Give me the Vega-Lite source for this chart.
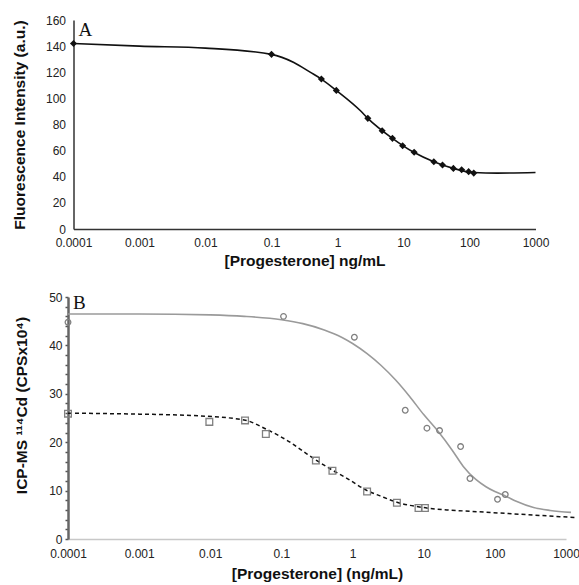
{
  "$schema": "https://vega.github.io/schema/vega-lite/v6.json",
  "background": "white",
  "padding": {"left": 12, "top": 14, "right": 0, "bottom": 0},
  "spacing": 22,
  "columns": 1,
  "align": "none",
  "config": {
    "view": {"stroke": null},
    "font": "Liberation Sans",
    "axis": {"grid": false, "labelFont": "Liberation Sans", "titleFont": "Liberation Sans", "labelColor": "#222", "titleColor": "#111", "labelFontSize": 12, "titleFontSize": 15.5, "titleFontWeight": "bold"}
  },
  "datasets": {
    "a_points": [
      {"conc": 0.0001, "signal": 142}, {"conc": 0.1, "signal": 133.7}, {"conc": 0.57, "signal": 114.8},
      {"conc": 0.96, "signal": 106.1}, {"conc": 2.88, "signal": 84.7}, {"conc": 4.75, "signal": 75.2},
      {"conc": 6.8, "signal": 69.4}, {"conc": 9.7, "signal": 63.7}, {"conc": 14.5, "signal": 58.7},
      {"conc": 28.8, "signal": 51.5}, {"conc": 39, "signal": 49}, {"conc": 57, "signal": 46.4},
      {"conc": 76, "signal": 45.4}, {"conc": 97, "signal": 43.9}, {"conc": 116, "signal": 42.8}
    ],
    "a_curve": [
      {"conc": 0.0001, "signal": 142}, {"conc": 0.001, "signal": 140}, {"conc": 0.01, "signal": 138.5},
      {"conc": 0.1, "signal": 133.7}, {"conc": 0.218, "signal": 127.5}, {"conc": 0.39, "signal": 119.9},
      {"conc": 0.57, "signal": 114.8}, {"conc": 0.96, "signal": 106.1}, {"conc": 2.23, "signal": 90.5},
      {"conc": 2.88, "signal": 84.7}, {"conc": 6.8, "signal": 69.4}, {"conc": 14.3, "signal": 58.7},
      {"conc": 28.8, "signal": 51.5}, {"conc": 57, "signal": 46.4}, {"conc": 116, "signal": 43.2},
      {"conc": 263, "signal": 42.8}, {"conc": 1000, "signal": 43.2}
    ],
    "b_points": [
      {"series": "circle", "conc": 0.0001, "cps": 44.8}, {"series": "circle", "conc": 0.107, "cps": 46.0},
      {"series": "circle", "conc": 1.06, "cps": 41.7}, {"series": "circle", "conc": 5.5, "cps": 26.6},
      {"series": "circle", "conc": 11.1, "cps": 22.9}, {"series": "circle", "conc": 16.7, "cps": 22.4},
      {"series": "circle", "conc": 33, "cps": 19.1}, {"series": "circle", "conc": 44.7, "cps": 12.5},
      {"series": "circle", "conc": 109, "cps": 8.2}, {"series": "circle", "conc": 140, "cps": 9.2},
      {"series": "square", "conc": 0.0001, "cps": 25.9}, {"series": "square", "conc": 0.0097, "cps": 24.2},
      {"series": "square", "conc": 0.0308, "cps": 24.5}, {"series": "square", "conc": 0.0604, "cps": 21.7},
      {"series": "square", "conc": 0.305, "cps": 16.2}, {"series": "square", "conc": 0.521, "cps": 14.1},
      {"series": "square", "conc": 1.6, "cps": 9.8}, {"series": "square", "conc": 4.2, "cps": 7.5},
      {"series": "square", "conc": 8.45, "cps": 6.4}, {"series": "square", "conc": 10.4, "cps": 6.4}
    ],
    "b_curves": [
      {"series": "solid", "conc": 0.0001, "cps": 46.5}, {"series": "solid", "conc": 0.001, "cps": 46.5},
      {"series": "solid", "conc": 0.01, "cps": 46.3}, {"series": "solid", "conc": 0.03, "cps": 46.0},
      {"series": "solid", "conc": 0.1, "cps": 45.3}, {"series": "solid", "conc": 0.2, "cps": 44.5},
      {"series": "solid", "conc": 0.4, "cps": 43.2}, {"series": "solid", "conc": 0.7, "cps": 41.7},
      {"series": "solid", "conc": 1.0, "cps": 40.4}, {"series": "solid", "conc": 1.6, "cps": 38.3},
      {"series": "solid", "conc": 2.5, "cps": 35.9}, {"series": "solid", "conc": 4.0, "cps": 32.9},
      {"series": "solid", "conc": 6.3, "cps": 29.5}, {"series": "solid", "conc": 10, "cps": 25.7},
      {"series": "solid", "conc": 16, "cps": 22.2}, {"series": "solid", "conc": 25, "cps": 18.4},
      {"series": "solid", "conc": 36, "cps": 15.0}, {"series": "solid", "conc": 54, "cps": 12.3},
      {"series": "solid", "conc": 75, "cps": 10.8}, {"series": "solid", "conc": 100, "cps": 9.8},
      {"series": "solid", "conc": 140, "cps": 8.9}, {"series": "solid", "conc": 200, "cps": 7.8},
      {"series": "solid", "conc": 350, "cps": 6.5}, {"series": "solid", "conc": 600, "cps": 5.9},
      {"series": "solid", "conc": 1175, "cps": 5.5},
      {"series": "dashed", "conc": 0.0001, "cps": 26.0}, {"series": "dashed", "conc": 0.001, "cps": 25.8},
      {"series": "dashed", "conc": 0.0058, "cps": 25.5}, {"series": "dashed", "conc": 0.0299, "cps": 24.6},
      {"series": "dashed", "conc": 0.061, "cps": 22.7}, {"series": "dashed", "conc": 0.132, "cps": 20.0},
      {"series": "dashed", "conc": 0.227, "cps": 17.6}, {"series": "dashed", "conc": 0.315, "cps": 16.2},
      {"series": "dashed", "conc": 0.51, "cps": 14.3}, {"series": "dashed", "conc": 0.8, "cps": 12.7},
      {"series": "dashed", "conc": 1.6, "cps": 10.0}, {"series": "dashed", "conc": 2.44, "cps": 8.9},
      {"series": "dashed", "conc": 4.2, "cps": 7.6}, {"series": "dashed", "conc": 9.9, "cps": 6.5},
      {"series": "dashed", "conc": 21.2, "cps": 6.0}, {"series": "dashed", "conc": 36.3, "cps": 5.8},
      {"series": "dashed", "conc": 183, "cps": 5.2}, {"series": "dashed", "conc": 1430, "cps": 4.4}
    ],
    "labels_a": [{"label": "A", "conc": 0.0001, "signal": 160}],
    "labels_b": [{"label": "B", "conc": 0.0001, "cps": 50}]
  },
  "concat": [
    {
      "width": 468,
      "height": 209,
      "encoding": {
        "x": {
          "field": "conc", "type": "quantitative",
          "scale": {"type": "log", "domain": [0.0001, 1000], "range": [5.5, 467.5]},
          "axis": {
            "title": "[Progesterone] ng/mL", "values": [0.0001, 0.001, 0.01, 0.1, 1, 10, 100, 1000],
            "format": "~g", "ticks": false, "domainColor": "#333", "domainWidth": 1.5,
            "labelPadding": 8, "titlePadding": 5, "labelFlush": false
          }
        },
        "y": {
          "field": "signal", "type": "quantitative",
          "scale": {"domain": [0, 160]},
          "axis": {
            "title": "Fluorescence Intensity (a.u.)", "values": [0, 20, 40, 60, 80, 100, 120, 140, 160],
            "ticks": false, "domainColor": "#333", "domainWidth": 1.5, "offset": -5.5,
            "labelPadding": 8, "titlePadding": 17.5
          }
        }
      },
      "layer": [
        {
          "data": {"name": "a_curve"},
          "mark": {"type": "line", "interpolate": "monotone", "color": "#111", "strokeWidth": 1.6}
        },
        {
          "data": {"name": "a_points"},
          "mark": {"type": "point", "shape": "diamond", "filled": true, "color": "#111", "opacity": 1, "size": 50}
        },
        {
          "data": {"name": "labels_a"},
          "mark": {"type": "text", "align": "left", "baseline": "top", "font": "Liberation Serif", "fontSize": 19, "color": "#111", "dx": 5, "dy": 1},
          "encoding": {"text": {"field": "label"}}
        }
      ]
    },
    {
      "width": 498,
      "height": 242,
      "encoding": {
        "x": {
          "field": "conc", "type": "quantitative",
          "scale": {"type": "log", "domain": [0.0001, 1000]},
          "axis": {
            "title": "[Progesterone] (ng/mL)", "values": [0.0001, 0.001, 0.01, 0.1, 1, 10, 100, 1000],
            "format": "~g", "ticks": false, "domainColor": "#c8c8c8", "domainWidth": 1.5,
            "labelPadding": 9, "titlePadding": 7, "labelFlush": false
          }
        },
        "y": {
          "field": "cps", "type": "quantitative",
          "scale": {"domain": [0, 50]},
          "axis": {
            "title": "ICP-MS ¹¹⁴Cd (CPSx10⁴)", "titleY": 108,
            "values": [0, 2, 4, 6, 8, 10, 12, 14, 16, 18, 20, 22, 24, 26, 28, 30, 32, 34, 36, 38, 40, 42, 44, 46, 48, 50],
            "labelExpr": "datum.value % 10 === 0 ? datum.label : ''",
            "labelOverlap": false,
            "ticks": true, "tickSize": 3, "tickWidth": 1.5, "tickColor": "#555",
            "domainColor": "#666", "domainWidth": 2.5,
            "labelPadding": 3, "titlePadding": 19
          }
        }
      },
      "layer": [
        {
          "data": {"name": "b_curves"},
          "transform": [{"filter": "datum.series === 'solid'"}],
          "mark": {"type": "line", "interpolate": "monotone", "color": "#9a9a9a", "strokeWidth": 1.6, "clip": false}
        },
        {
          "data": {"name": "b_curves"},
          "transform": [{"filter": "datum.series === 'dashed'"}],
          "mark": {"type": "line", "interpolate": "monotone", "color": "#111", "strokeWidth": 1.5, "strokeDash": [4, 3], "clip": false}
        },
        {
          "data": {"name": "b_points"},
          "transform": [{"filter": "datum.series === 'circle'"}],
          "mark": {"type": "point", "shape": "circle", "filled": false, "color": "#808080", "strokeWidth": 1.3, "opacity": 1, "size": 32}
        },
        {
          "data": {"name": "b_points"},
          "transform": [{"filter": "datum.series === 'square'"}],
          "mark": {"type": "point", "shape": "square", "filled": false, "color": "#808080", "strokeWidth": 1.3, "opacity": 1, "size": 45}
        },
        {
          "data": {"name": "labels_b"},
          "mark": {"type": "text", "align": "left", "baseline": "top", "font": "Liberation Serif", "fontSize": 19, "color": "#111", "dx": 5, "dy": -3},
          "encoding": {"text": {"field": "label"}}
        }
      ]
    }
  ]
}
